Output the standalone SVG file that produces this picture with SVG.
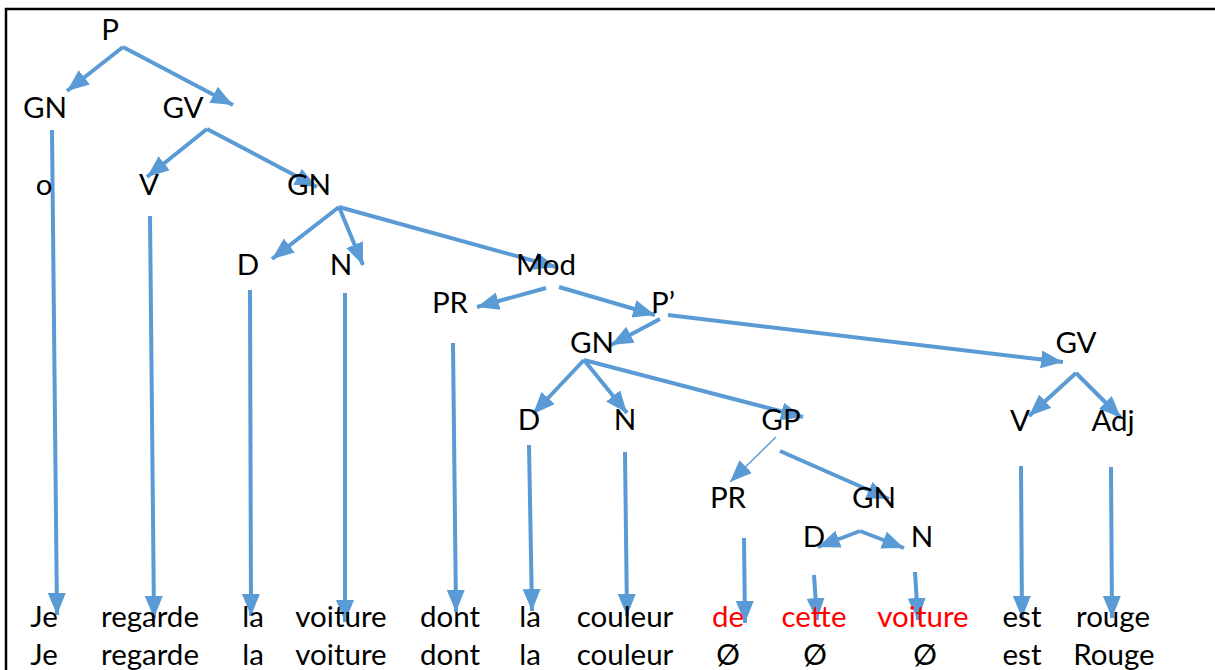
<svg xmlns="http://www.w3.org/2000/svg" width="1215" height="670" viewBox="0 0 1215 670">
<style>
text{font-family:Lato,"Open Sans","Liberation Sans",sans-serif;font-size:29.5px;fill:#000;text-anchor:middle}
.red{fill:#FF0000}
.c line{stroke:#5B9BD5;stroke-width:4;marker-end:url(#ah)}
.c line.thin{stroke-width:1.5}
</style>
<defs>
<marker id="ah" markerUnits="userSpaceOnUse" markerWidth="24" markerHeight="20" refX="22" refY="9" orient="auto">
<path d="M0,0 L22,9 L0,18 z" fill="#5B9BD5"/>
</marker>
</defs>
<rect width="1215" height="670" fill="#fff"/>
<path d="M1217,9 H6 V672" fill="none" stroke="#000" stroke-width="2.5"/>
<g class="c" id="connectors">
<line x1="123" y1="47" x2="67" y2="91"/>
<line x1="123" y1="47" x2="233" y2="105"/>
<line x1="207" y1="129" x2="147" y2="177"/>
<line x1="207" y1="129" x2="317" y2="187"/>
<line x1="52" y1="130" x2="57" y2="615"/>
<line x1="150" y1="216" x2="154" y2="618"/>
<line x1="339" y1="207" x2="272" y2="259"/>
<line x1="339" y1="207" x2="363" y2="265"/>
<line x1="339" y1="207" x2="556" y2="267"/>
<line x1="250" y1="290" x2="251" y2="616"/>
<line x1="345" y1="293" x2="345" y2="622"/>
<line x1="546" y1="288" x2="477" y2="307"/>
<line x1="559" y1="287" x2="655" y2="315"/>
<line x1="453" y1="343" x2="456" y2="612"/>
<line x1="660" y1="319" x2="611" y2="345"/>
<line x1="668" y1="315" x2="1063" y2="362"/>
<line x1="584" y1="360" x2="533" y2="414"/>
<line x1="584" y1="360" x2="627" y2="413"/>
<line x1="584" y1="360" x2="803" y2="417"/>
<line x1="529" y1="445" x2="532" y2="611"/>
<line x1="625" y1="452" x2="627" y2="616"/>
<line class="thin" x1="776" y1="437" x2="730" y2="482"/>
<line x1="780" y1="451" x2="889" y2="499"/>
<line x1="860" y1="531" x2="818" y2="547"/>
<line x1="860" y1="531" x2="904" y2="548"/>
<line x1="744" y1="538" x2="745" y2="623"/>
<line x1="814" y1="575" x2="817" y2="620"/>
<line x1="915" y1="572" x2="918" y2="620"/>
<line x1="1021" y1="466" x2="1022" y2="618"/>
<line x1="1111" y1="467" x2="1112" y2="618"/>
<line x1="1076" y1="373" x2="1029" y2="416"/>
<line x1="1076" y1="373" x2="1121" y2="418"/>
</g>
<g id="n-P"><text x="110" y="40">P</text></g>
<g id="n-GN1"><text x="45" y="118">GN</text></g>
<g id="n-GV1"><text x="183" y="118">GV</text></g>
<g id="n-o"><text x="44" y="195">o</text></g>
<g id="n-V1"><text x="149" y="195">V</text></g>
<g id="n-GN2"><text x="309" y="195">GN</text></g>
<g id="n-D1"><text x="248" y="275">D</text></g>
<g id="n-N1"><text x="341" y="275">N</text></g>
<g id="n-Mod"><text x="546" y="275">Mod</text></g>
<g id="n-PR1"><text x="450" y="313">PR</text></g>
<g id="n-P2"><text x="663" y="313">P’</text></g>
<g id="n-GN3"><text x="592" y="353">GN</text></g>
<g id="n-GV2"><text x="1076" y="353">GV</text></g>
<g id="n-D2"><text x="529" y="430">D</text></g>
<g id="n-N2"><text x="625" y="430">N</text></g>
<g id="n-GP"><text x="781" y="430">GP</text></g>
<g id="n-V2"><text x="1020" y="431">V</text></g>
<g id="n-Adj"><text x="1113" y="431">Adj</text></g>
<g id="n-PR2"><text x="728" y="508">PR</text></g>
<g id="n-GN4"><text x="874" y="508">GN</text></g>
<g id="n-D3"><text x="814" y="547">D</text></g>
<g id="n-N3"><text x="922" y="547">N</text></g>
<g id="row1">
<text x="44" y="627">Je</text>
<text x="150" y="627">regarde</text>
<text x="253" y="627">la</text>
<text x="341" y="627">voiture</text>
<text x="450" y="627">dont</text>
<text x="530" y="627">la</text>
<text x="625" y="627">couleur</text>
<text class="red" x="728" y="627">de</text>
<text class="red" x="814" y="627">cette</text>
<text class="red" x="923" y="627">voiture</text>
<text x="1022" y="627">est</text>
<text x="1113" y="627">rouge</text>
</g>
<g id="row2">
<text x="44" y="665">Je</text>
<text x="150" y="665">regarde</text>
<text x="253" y="665">la</text>
<text x="341" y="665">voiture</text>
<text x="450" y="665">dont</text>
<text x="530" y="665">la</text>
<text x="625" y="665">couleur</text>
<text x="728" y="665">Ø</text>
<text x="815" y="665">Ø</text>
<text x="925" y="665">Ø</text>
<text x="1022" y="665">est</text>
<text x="1114" y="665">Rouge</text>
</g>
</svg>
